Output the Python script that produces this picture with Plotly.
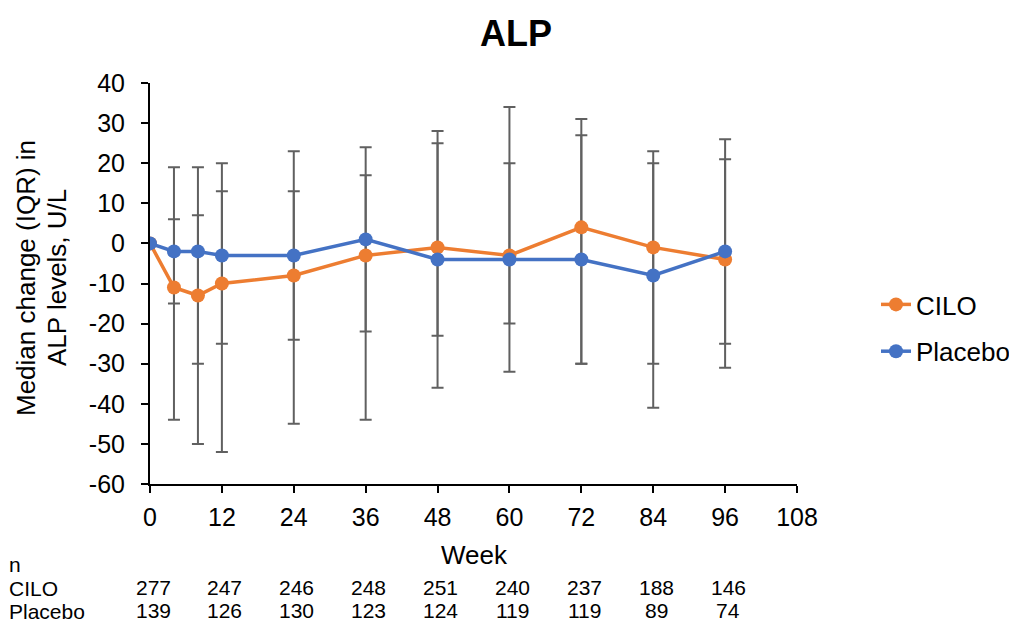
import plotly.graph_objects as go

weeks = [0, 4, 8, 12, 24, 36, 48, 60, 72, 84, 96]
cilo_median = [0, -11, -13, -10, -8, -3, -1, -3, 4, -1, -4]
placebo_median = [0, -2, -2, -3, -3, 1, -4, -4, -4, -8, -2]

# IQR bounds (Q1, Q3)
cilo_q1 = [0, -15, -30, -25, -24, -22, -23, -20, -30, -30, -25]
cilo_q3 = [0, 6, 7, 13, 13, 17, 25, 20, 27, 20, 21]
placebo_q1 = [0, -44, -50, -52, -45, -44, -36, -32, -30, -41, -31]
placebo_q3 = [0, 19, 19, 20, 23, 24, 28, 34, 31, 23, 26]

n_weeks = [0, 12, 24, 36, 48, 60, 72, 84, 96]
n_cilo = [277, 247, 246, 248, 251, 240, 237, 188, 146]
n_placebo = [139, 126, 130, 123, 124, 119, 119, 89, 74]

x_ticks = list(range(0, 109, 12))
y_ticks = list(range(-60, 41, 10))

ORANGE = "#ED7D31"
BLUE = "#4472C4"
GRAY = "#606060"
FONT = "Liberation Sans, Arial, sans-serif"

# page body offset (browser default margin)
OFF = 8
FIG_W, FIG_H = 1017 - OFF, 623 - OFF
plot_l, plot_r, plot_t, plot_b = 150 - OFF, 797 - OFF, 83 - OFF, 484 - OFF
W = plot_r - plot_l
H = plot_b - plot_t


def px(screen_x):
    return (screen_x - OFF - plot_l) / W


def py(screen_y):
    return (plot_b - (screen_y - OFF)) / H


fig = go.Figure()


def err_trace(med, q1, q3):
    idx = [i for i in range(len(med)) if q3[i] != med[i] or q1[i] != med[i]]
    return go.Scatter(
        x=[weeks[i] for i in idx],
        y=[med[i] for i in idx],
        mode="markers",
        marker=dict(size=1, opacity=0),
        error_y=dict(type="data", symmetric=False,
                     array=[q3[i] - med[i] for i in idx],
                     arrayminus=[med[i] - q1[i] for i in idx],
                     color=GRAY, thickness=2, width=6),
        showlegend=False, hoverinfo="skip",
    )


fig.add_trace(err_trace(placebo_median, placebo_q1, placebo_q3))
fig.add_trace(err_trace(cilo_median, cilo_q1, cilo_q3))

fig.add_trace(go.Scatter(x=weeks, y=cilo_median, mode="lines+markers", name="CILO",
                         line=dict(color=ORANGE, width=3.5), marker=dict(color=ORANGE, size=14),
                         legendgroup="a"))
fig.add_trace(go.Scatter(x=weeks, y=placebo_median, mode="lines+markers", name="Placebo",
                         line=dict(color=BLUE, width=3.5), marker=dict(color=BLUE, size=14),
                         legendgroup="b"))

annotations = [
    dict(text="<b>ALP</b>", x=px(516), y=py(34), xref="paper", yref="paper",
         showarrow=False, xanchor="center", yanchor="middle",
         font=dict(size=36, color="black", family=FONT)),
    dict(text="Median change (IQR) in", x=px(26), y=py(278), xref="paper", yref="paper",
         textangle=-90, showarrow=False, xanchor="center", yanchor="middle",
         font=dict(size=26, color="black", family=FONT)),
    dict(text="ALP levels, U/L", x=px(57), y=py(278), xref="paper", yref="paper",
         textangle=-90, showarrow=False, xanchor="center", yanchor="middle",
         font=dict(size=26, color="black", family=FONT)),
    dict(text="Week", x=px(474), y=py(555), xref="paper", yref="paper",
         showarrow=False, xanchor="center", yanchor="middle",
         font=dict(size=26, color="black", family=FONT)),
]
for label, ys in [("n", 564), ("CILO", 588), ("Placebo", 611)]:
    annotations.append(dict(text=label, x=px(OFF), y=py(ys), xref="paper", yref="paper",
                            showarrow=False, xanchor="left", yanchor="middle",
                            borderpad=0, font=dict(size=21, color="black", family=FONT)))
for w, nc, npb in zip(n_weeks, n_cilo, n_placebo):
    annotations.append(dict(text=str(nc), x=w, xref="x", y=py(587), yref="paper",
                            xshift=3, showarrow=False, xanchor="center", yanchor="middle",
                            borderpad=0, font=dict(size=21, color="black", family=FONT)))
    annotations.append(dict(text=str(npb), x=w, xref="x", y=py(610), yref="paper",
                            xshift=3, showarrow=False, xanchor="center", yanchor="middle",
                            borderpad=0, font=dict(size=21, color="black", family=FONT)))

axis_common = dict(showgrid=False, zeroline=False, showline=True, linecolor="black",
                   linewidth=2, ticks="outside", ticklen=7, tickcolor="black", tickwidth=2,
                   tickfont=dict(size=25, color="black", family=FONT))

fig.update_layout(
    width=FIG_W, height=FIG_H,
    margin=dict(l=plot_l, r=FIG_W - plot_r, t=plot_t, b=FIG_H - plot_b, autoexpand=False),
    paper_bgcolor="white", plot_bgcolor="white",
    font=dict(family=FONT, size=20, color="black"),
    showlegend=True,
    legend=dict(x=px(876), y=py(328), xanchor="left", yanchor="middle",
                traceorder="grouped", tracegroupgap=10,
                font=dict(size=26, color="black", family=FONT),
                bgcolor="rgba(0,0,0,0)"),
    annotations=annotations,
    xaxis=dict(range=[0, 108], tickmode="array", tickvals=x_ticks,
               ticktext=[str(t) for t in x_ticks], ticklabelstandoff=3, **axis_common),
    yaxis=dict(range=[-60, 40], tickmode="array", tickvals=y_ticks,
               ticktext=[str(t) for t in y_ticks], ticklabelstandoff=11, **axis_common),
)

fig.write_html("out.html")
